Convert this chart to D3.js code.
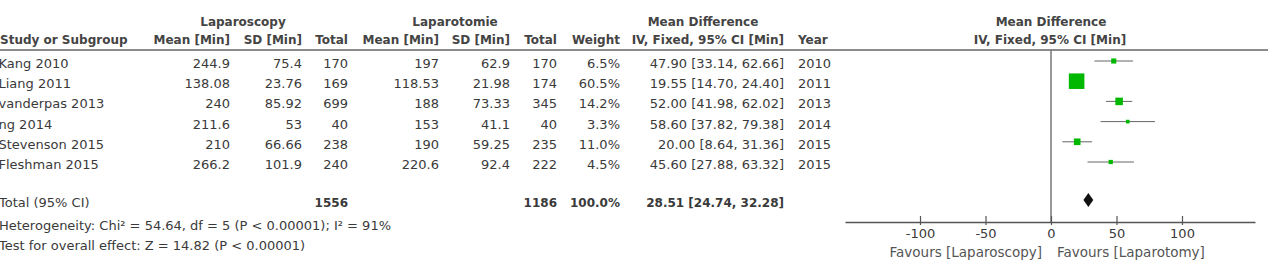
<!DOCTYPE html>
<html>
<head>
<meta charset="utf-8">
<script src="https://cdn.jsdelivr.net/npm/d3@7"></script>
<style>
  body { margin: 0; background: #fff; }
  svg { display: block; }
  text { font-family: "DejaVu Sans", sans-serif; font-size: 13px; fill: #3a3a3a; }
  .hd { font-weight: bold; font-size: 12px; fill: #444; }
  .tot { font-weight: bold; font-size: 12px; }
  .fav { font-size: 13.5px; fill: #555; }
</style>
</head>
<body>
<svg width="1272" height="270"></svg>
<script>
// studies
var studies = ["Kang 2010", "Liang 2011", "vanderpas 2013", "ng 2014", "Stevenson 2015", "Fleshman 2015"];
var lapMean = ["244.9", "138.08", "240", "211.6", "210", "266.2"];
var lapSD = ["75.4", "23.76", "85.92", "53", "66.66", "101.9"];
var lapN = [170, 169, 699, 40, 238, 240];
var openMean = ["197", "118.53", "188", "153", "190", "220.6"];
var openSD = ["62.9", "21.98", "73.33", "41.1", "59.25", "92.4"];
var openN = [170, 174, 345, 40, 235, 222];
var weights = [6.5, 60.5, 14.2, 3.3, 11.0, 4.5];
var md = [47.90, 19.55, 52.00, 58.60, 20.00, 45.60];
var ciLow = [33.14, 14.70, 41.98, 37.82, 8.64, 27.88];
var ciHigh = [62.66, 24.40, 62.02, 79.38, 31.36, 63.32];
var years = [2010, 2011, 2013, 2014, 2015, 2015];

// pooled
var totalN = [1556, 1186];
var totalMD = [28.51, 24.74, 32.28];
var heterogeneity = "Heterogeneity: Chi² = 54.64, df = 5 (P < 0.00001); I² = 91%";
var overall = "Test for overall effect: Z = 14.82 (P < 0.00001)";

var xTicks = [-100, -50, 0, 50, 100];

var svg = d3.select("svg");
var f2 = d3.format(".2f");
var f1 = d3.format(".1f");

var x = d3.scaleLinear().domain([-100, 100]).range([920, 1182]);
var xAxisScale = x.copy().domain([x.invert(845), x.invert(1255)]).range([845, 1255]);
var side = d3.scaleSqrt().domain([0, 100]).range([0, 20]);

var rowY = function(i) { return 61 + i * 20.2; };

// column right edges
var cols = [
  { x: 230, vals: lapMean },
  { x: 302, vals: lapSD },
  { x: 348, vals: lapN },
  { x: 439, vals: openMean },
  { x: 510, vals: openSD },
  { x: 557, vals: openN },
  { x: 620, vals: weights.map(function(w) { return f1(w) + "%"; }) },
  { x: 784, vals: md.map(function(m, i) { return f2(m) + " [" + f2(ciLow[i]) + ", " + f2(ciHigh[i]) + "]"; }) }
];

// headers
var head1 = [["Laparoscopy", 243], ["Laparotomie", 455], ["Mean Difference", 703], ["Mean Difference", 1051]];
svg.selectAll(".h1").data(head1).enter().append("text")
    .attr("class", "hd")
    .attr("x", function(d) { return d[1]; })
    .attr("y", 26)
    .attr("text-anchor", "middle")
    .text(function(d) { return d[0]; });

var head2 = [["Study or Subgroup", 0, "start"], ["Mean [Min]", 230, "end"], ["SD [Min]", 302, "end"], ["Total", 348, "end"],
  ["Mean [Min]", 439, "end"], ["SD [Min]", 510, "end"], ["Total", 557, "end"], ["Weight", 620, "end"],
  ["IV, Fixed, 95% CI [Min]", 784, "end"], ["Year", 798, "start"], ["IV, Fixed, 95% CI [Min]", 1050, "middle"]];
svg.selectAll(".h2").data(head2).enter().append("text")
    .attr("class", "hd")
    .attr("x", function(d) { return d[1]; })
    .attr("y", 44)
    .attr("text-anchor", function(d) { return d[2]; })
    .text(function(d) { return d[0]; });

svg.append("line")
    .attr("x1", 0).attr("x2", 1268)
    .attr("y1", 50).attr("y2", 50)
    .attr("stroke", "#666").attr("stroke-width", 1.5);

// study rows
svg.selectAll(".name").data(studies).enter().append("text")
    .attr("x", -1.5)
    .attr("y", function(d, i) { return rowY(i) + 7; })
    .text(function(d) { return d; });

cols.forEach(function(c) {
  svg.append("g").selectAll("text").data(c.vals).enter().append("text")
      .attr("x", c.x)
      .attr("y", function(d, i) { return rowY(i) + 7; })
      .attr("text-anchor", "end")
      .text(function(d) { return d; });
});

svg.append("g").selectAll("text").data(years).enter().append("text")
    .attr("x", 798)
    .attr("y", function(d, i) { return rowY(i) + 7; })
    .text(function(d) { return d; });

// total row
var totY = 207;
svg.append("text").attr("x", -1).attr("y", totY).text("Total (95% CI)");
svg.append("text").attr("class", "tot").attr("x", 348).attr("y", totY).attr("text-anchor", "end").text(totalN[0]);
svg.append("text").attr("class", "tot").attr("x", 557).attr("y", totY).attr("text-anchor", "end").text(totalN[1]);
svg.append("text").attr("class", "tot").attr("x", 620).attr("y", totY).attr("text-anchor", "end").text("100.0%");
svg.append("text").attr("class", "tot").attr("x", 784).attr("y", totY).attr("text-anchor", "end")
    .text(f2(totalMD[0]) + " [" + f2(totalMD[1]) + ", " + f2(totalMD[2]) + "]");

svg.append("text").attr("x", -1).attr("y", 230).text(heterogeneity);
svg.append("text").attr("x", -1).attr("y", 250).text(overall);

// plot
svg.append("line")
    .attr("x1", x(0)).attr("x2", x(0))
    .attr("y1", 50).attr("y2", 222)
    .attr("stroke", "#777").attr("stroke-width", 1.5);

var g = svg.append("g");
g.selectAll(".ci").data(md).enter().append("line")
    .attr("x1", function(d, i) { return x(ciLow[i]); })
    .attr("x2", function(d, i) { return x(ciHigh[i]); })
    .attr("y1", function(d, i) { return rowY(i); })
    .attr("y2", function(d, i) { return rowY(i); })
    .attr("stroke", "#666").attr("stroke-width", 1);

g.selectAll(".sq").data(md).enter().append("rect")
    .attr("x", function(d, i) { return x(d) - side(weights[i]) / 2; })
    .attr("y", function(d, i) { return rowY(i) - side(weights[i]) / 2; })
    .attr("width", function(d, i) { return side(weights[i]); })
    .attr("height", function(d, i) { return side(weights[i]); })
    .attr("fill", "#00b800");

var dy = 200;
svg.append("path")
    .attr("d", "M" + x(totalMD[1]) + "," + dy + "L" + x(totalMD[0]) + "," + (dy - 7) +
               "L" + x(totalMD[2]) + "," + dy + "L" + x(totalMD[0]) + "," + (dy + 7) + "Z")
    .attr("fill", "#111");

var axis = svg.append("g")
    .attr("transform", "translate(0,222)")
    .call(d3.axisBottom(xAxisScale).tickValues(xTicks).tickFormat(function(d) { return String(d); })
      .tickSizeInner(-6).tickSizeOuter(0).tickPadding(6.5));
axis.select(".domain").attr("stroke", "#555").attr("stroke-width", 1.5);
axis.selectAll(".tick line").attr("stroke", "#555").attr("stroke-width", 1.2).attr("y1", 3).attr("y2", -6);
axis.selectAll(".tick text").style("font-family", "DejaVu Sans, sans-serif").style("font-size", "13px").attr("fill", "#444");

svg.append("text").attr("class", "fav").attr("x", 1042).attr("y", 257).attr("text-anchor", "end").text("Favours [Laparoscopy]");
svg.append("text").attr("class", "fav").attr("x", 1057).attr("y", 257).text("Favours [Laparotomy]");
</script>
</body>
</html>
